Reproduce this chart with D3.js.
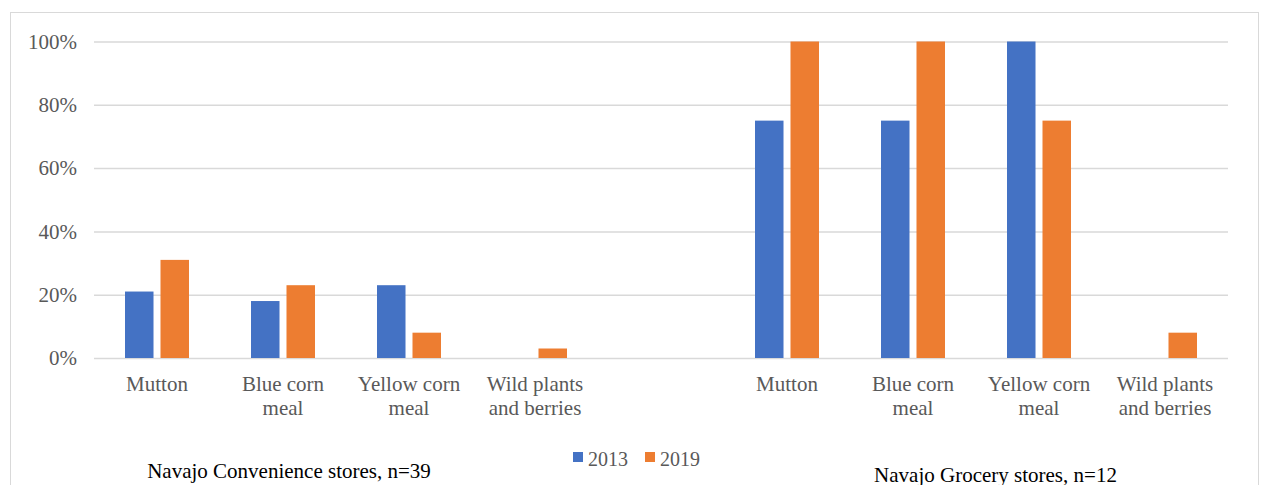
<!DOCTYPE html>
<html>
<head>
<meta charset="utf-8">
<style>
    body { margin: 0; background: #fff; }
    .cat { font-family: "Liberation Serif", serif; font-size: 21px; fill: #595959; }
    .leg { font-family: "Liberation Serif", serif; font-size: 20px; fill: #595959; }
    .grid line { stroke: #d9d9d9; stroke-width: 1.5px; }
    .sub { font-family: "Liberation Serif", serif; font-size: 21px; fill: #000; }
</style>
</head>
<body>
<div id="chart"></div>
<script src="https://cdnjs.cloudflare.com/ajax/libs/d3/7.8.5/d3.min.js"></script>
<script>
    const W = 1262, H = 485;

    // categories: two store groups with an empty slot between them
    const categories = [
        "Mutton", "Blue corn meal", "Yellow corn meal", "Wild plants and berries",
        "",
        "Mutton", "Blue corn meal", "Yellow corn meal", "Wild plants and berries"
    ];
    const labelLines = [
        ["Mutton"], ["Blue corn", "meal"], ["Yellow corn", "meal"], ["Wild plants", "and berries"],
        [],
        ["Mutton"], ["Blue corn", "meal"], ["Yellow corn", "meal"], ["Wild plants", "and berries"]
    ];
    const years = ["2013", "2019"];
    const values2013 = [0.21, 0.18, 0.23, 0, null, 0.75, 0.75, 1.00, 0];
    const values2019 = [0.31, 0.23, 0.08, 0.03, null, 1.00, 1.00, 0.75, 0.08];
    const yTicks = [0, 0.2, 0.4, 0.6, 0.8, 1.0];
    const groupTitles = ["Navajo Convenience stores, n=39", "Navajo Grocery stores, n=12"];
    const colors = { "2013": "#4472C4", "2019": "#ED7D31" };

    const svg = d3.select("#chart").append("svg")
        .attr("width", W).attr("height", H);

    // chart border
    svg.append("rect")
        .attr("x", 10.5).attr("y", 12.5)
        .attr("width", 1248).attr("height", 500)
        .attr("fill", "none").attr("stroke", "#d9d9d9").attr("stroke-width", 1);

    const plotL = 94, plotR = 1228, plotT = 41.5, plotB = 358;

    const x = d3.scaleBand().domain(d3.range(categories.length)).range([plotL, plotR]);
    const xs = d3.scaleBand().domain(years).range([31, 95]).paddingInner(0.197);
    const y = d3.scaleLinear().domain([0, 1]).range([plotB, plotT]);

    // gridlines + y labels
    svg.append("g")
        .attr("class", "grid")
        .attr("transform", "translate(" + plotL + ",0)")
        .call(d3.axisLeft(y).tickValues(yTicks).tickSize(-(plotR - plotL)).tickPadding(17).tickFormat(d3.format(".0%")))
        .call(g => g.select(".domain").remove())
        .call(g => g.selectAll("text").attr("class", "cat").attr("fill", null));

    // bars
    const series = [
        { year: "2013", values: values2013 },
        { year: "2019", values: values2019 }
    ];
    series.forEach(s => {
        svg.append("g").selectAll("rect")
            .data(s.values.map((v, i) => ({ v: v, i: i })).filter(d => d.v))
            .enter().append("rect")
            .attr("x", d => x(d.i) + xs(s.year))
            .attr("width", xs.bandwidth())
            .attr("y", d => y(d.v))
            .attr("height", d => y(0) - y(d.v))
            .attr("fill", colors[s.year]);
    });

    // category labels
    const cat = svg.append("g").selectAll("text")
        .data(labelLines)
        .enter().append("text")
        .attr("class", "cat")
        .attr("text-anchor", "middle")
        .attr("x", (d, i) => x(i) + x.bandwidth() / 2)
        .attr("y", 391);
    cat.selectAll("tspan")
        .data(d => d)
        .enter().append("tspan")
        .attr("x", function () { return d3.select(this.parentNode).attr("x"); })
        .attr("dy", (d, i) => i === 0 ? 0 : 24)
        .text(d => d);

    // legend
    const legend = svg.append("g").selectAll("g")
        .data(years)
        .enter().append("g")
        .attr("transform", (d, i) => "translate(" + (573 + i * 72) + ",452)");
    legend.append("rect")
        .attr("width", 10).attr("height", 10)
        .attr("fill", d => colors[d]);
    legend.append("text")
        .attr("class", "leg")
        .attr("x", 15).attr("y", 14)
        .text(d => d);

    // group titles
    svg.append("text").attr("class", "sub")
        .attr("x", 289).attr("y", 478).attr("text-anchor", "middle")
        .text(groupTitles[0]);
    svg.append("text").attr("class", "sub")
        .attr("x", 995.5).attr("y", 482).attr("text-anchor", "middle")
        .text(groupTitles[1]);
</script>
</body>
</html>
